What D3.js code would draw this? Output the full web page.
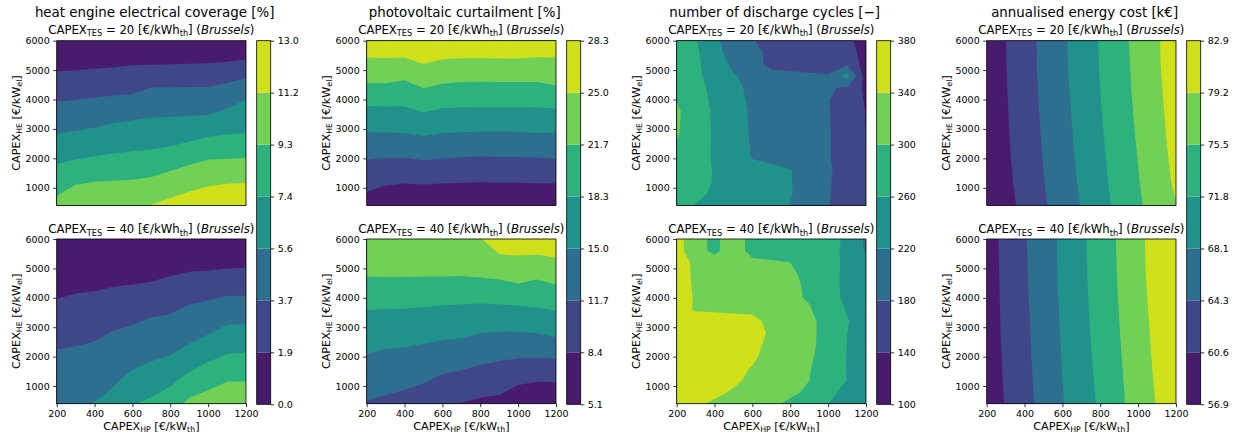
<!DOCTYPE html>
<html>
<head>
<meta charset="utf-8">
<script src="https://cdn.jsdelivr.net/npm/d3@7"></script>
<style>
  html, body { margin: 0; padding: 0; background: #fff; }
  svg { display: block; font-family: "DejaVu Sans", sans-serif; }
</style>
</head>
<body>
<div id="chart"></div>
<script>
// grid of the parametric study
const hpValues = [200, 300, 400, 500, 600, 700, 800, 900, 1000, 1100, 1200];
const heCoarse = [6000, 5200, 4400, 3600, 2800, 2000, 1200, 400];
const heFine = [6000, 5600, 5200, 4800, 4400, 4000, 3600, 3200, 2800, 2400, 2000, 1600, 1200, 800, 400];
const tesValues = [20, 40];
const cityName = 'Brussels';

const columnTitles = [
    'heat engine electrical coverage [%]',
    'photovoltaic curtailment [%]',
    'number of discharge cycles [\u2212]',
    'annualised energy cost [k\u20ac]'
];

// contour levels and colorbar labels
const coverageLevels = [0, 1.86, 3.72, 5.58, 7.44, 9.3, 11.16, 13.02];
const coverageTicks = ['0.0', '1.9', '3.7', '5.6', '7.4', '9.3', '11.2', '13.0'];
const curtailLevels = [5.08, 8.4, 11.71, 15.03, 18.35, 21.67, 24.98, 28.3];
const curtailTicks = ['5.1', '8.4', '11.7', '15.0', '18.3', '21.7', '25.0', '28.3'];
const cycleLevels = [100, 140, 180, 220, 260, 300, 340, 380];
const cycleTicks = ['100', '140', '180', '220', '260', '300', '340', '380'];
const costLevels = [56.9, 60.62, 64.34, 68.06, 71.78, 75.5, 79.22, 82.94];
const costTicks = ['56.9', '60.6', '64.3', '68.1', '71.8', '75.5', '79.2', '82.9'];

// rows follow the HE arrays (top = 6000), columns follow hpValues
const coverageTes20 = [
    [0.4, 0.3, 0.3, 0.3, 0.3, 0.3, 0.3, 0.3, 0.3, 0.4, 0.5],
    [1.41, 1.48, 1.56, 1.67, 1.8, 1.82, 1.86, 1.9, 1.93, 2.03, 2.19],
    [2.86, 2.98, 3.09, 3.18, 3.27, 3.75, 3.77, 3.78, 3.78, 4.14, 4.79],
    [4.28, 4.42, 4.56, 4.83, 5.03, 5.21, 5.25, 5.27, 5.25, 5.8, 6.33],
    [5.64, 5.83, 6.02, 6.33, 6.48, 6.54, 6.6, 6.86, 7.29, 7.47, 7.52],
    [7.09, 7.35, 7.58, 7.72, 7.85, 7.97, 8.33, 8.81, 9.2, 9.27, 9.32],
    [8.47, 9.09, 9.3, 9.37, 9.45, 9.65, 10.15, 10.52, 10.84, 11.02, 11.07],
    [9.85, 10.84, 10.9, 10.95, 11.0, 11.2, 11.62, 12.1, 12.48, 12.78, 12.9]
];
const coverageTes40 = [
    [0, 0, 0, 0, 0, 0, 0, 0, 0, 0.1, 0.1],
    [0.45, 0.74, 0.79, 0.83, 0.82, 0.89, 1.19, 1.33, 1.35, 1.45, 1.51],
    [1.37, 1.59, 1.67, 1.83, 1.94, 2.08, 2.36, 2.7, 2.87, 3.09, 3.11],
    [2.26, 2.43, 2.56, 2.84, 3.06, 3.42, 3.52, 3.98, 4.26, 4.63, 4.61],
    [3.16, 3.28, 3.45, 3.81, 4.09, 4.34, 4.59, 4.99, 5.49, 6.11, 6.19],
    [3.97, 4.07, 4.21, 4.58, 4.99, 5.35, 5.66, 6.31, 7.09, 7.59, 7.71],
    [4.66, 4.79, 4.92, 5.36, 6.04, 6.55, 7.05, 8.03, 8.64, 9.19, 9.23],
    [5.35, 5.48, 5.63, 6.13, 7.35, 7.8, 8.42, 9.72, 10.19, 10.79, 10.75]
];

const curtailTes20 = [
    [27.1, 27.2, 27.4, 27.8, 27.4, 27.4, 27.4, 27.3, 27.3, 27.2, 27.2],
    [24.15, 24.19, 24.01, 24.94, 24.31, 24.16, 24.12, 24.23, 24.23, 24.04, 24.09],
    [21.05, 21.07, 20.57, 21.73, 21.14, 20.85, 20.83, 20.83, 20.83, 20.89, 21.4],
    [17.56, 17.64, 17.74, 18.51, 17.93, 17.86, 17.78, 17.78, 17.78, 17.88, 17.97],
    [14.73, 14.74, 14.79, 15.24, 14.8, 14.7, 14.6, 14.6, 14.6, 14.79, 14.72],
    [11.86, 11.66, 11.65, 11.98, 11.74, 11.59, 11.44, 11.53, 11.53, 11.6, 11.78],
    [9.44, 8.83, 8.61, 8.76, 8.61, 8.52, 8.44, 8.52, 8.52, 8.59, 8.62],
    [7.04, 6.0, 5.56, 5.54, 5.48, 5.44, 5.43, 5.46, 5.46, 5.5, 5.5]
];
const curtailTes40 = [
    [24.2, 24.2, 24.2, 24.3, 24.5, 24.6, 24.8, 26.8, 26.9, 26.9, 27.0],
    [23.06, 23.11, 23.1, 23.1, 23.2, 23.2, 23.55, 23.93, 24.18, 23.98, 24.45],
    [20.73, 20.78, 20.76, 20.7, 20.62, 20.54, 20.6, 20.81, 21.35, 20.8, 21.46],
    [18.39, 18.3, 18.24, 18.06, 17.88, 17.7, 17.58, 17.62, 17.78, 18.1, 18.53],
    [16.58, 16.31, 16.2, 15.95, 15.75, 15.56, 15.06, 14.87, 14.85, 15.06, 15.67],
    [14.8, 14.44, 14.26, 13.93, 13.47, 13.14, 12.53, 12.17, 11.92, 11.85, 11.99],
    [13.16, 12.77, 12.46, 11.98, 11.13, 10.68, 10.14, 9.83, 9.0, 8.61, 8.7],
    [11.53, 11.09, 10.66, 10.03, 8.79, 8.3, 7.8, 7.56, 6.08, 5.36, 5.45]
];

const cyclesTes20 = [
    [296, 263, 227.2, 202.7, 181.1, 172.8, 165.2, 157.6, 150.1, 142.5, 134.9],
    [297, 267.2, 231.2, 206.2, 186.2, 174.7, 167, 159.3, 151.7, 144, 136.4],
    [297, 267.9, 238.7, 213.1, 193.8, 170, 166, 160, 153.4, 173, 122],
    [296, 268.5, 245.6, 222.7, 210, 192, 190, 188, 185, 235, 120],
    [296.3, 272.9, 249.5, 226.1, 214.1, 206.2, 198.3, 190.5, 182.5, 177, 130],
    [298, 275.7, 252.3, 228.9, 214.9, 206.6, 198.3, 190.1, 181.7, 160.8, 136.6],
    [305.4, 279.6, 254.5, 231.8, 215.9, 207.5, 199, 190.6, 182, 162.2, 138.8],
    [304.5, 279.5, 255.1, 232.7, 216.3, 207.8, 199.3, 190.8, 182.2, 163, 139],
    [302.9, 279, 255.6, 233.5, 216.7, 208.1, 199.5, 191, 182.4, 165.6, 145.6],
    [297, 276.8, 255.8, 234.7, 217.4, 208.6, 199.9, 191.3, 182.4, 166, 146],
    [294.8, 275.5, 256.1, 236.8, 218.8, 209.7, 200.6, 191.6, 182.4, 166, 147],
    [291, 271.1, 258.2, 249, 239.9, 230.8, 221.6, 204.1, 184.7, 164.8, 145],
    [287, 273, 257.8, 248.8, 239.8, 230.8, 221.8, 203.8, 183.5, 163.4, 143],
    [280, 266.7, 255.8, 247.4, 238.9, 230.5, 222.1, 204, 182.8, 162.6, 143],
    [275, 258.4, 250.6, 242.9, 235.1, 227.4, 219.1, 200.5, 181.9, 162, 142]
];
const cyclesTes40 = [
    [350, 323.5, 285, 336.7, 276.5, 273, 269.6, 266.2, 266, 257, 213],
    [350, 323.5, 285, 336.7, 276.5, 273, 269.5, 266, 266, 256, 215],
    [348, 336.7, 329.3, 322, 314.6, 307.3, 299.9, 284.8, 269.5, 254.4, 239.3],
    [348, 337.1, 330.6, 324, 317.5, 310.9, 304.3, 293, 272.5, 252, 231.5],
    [348, 337.7, 331.3, 324.8, 318.3, 311.9, 305.4, 296.2, 273.7, 251.2, 228.8],
    [348, 338.5, 331.9, 325.4, 318.8, 312.3, 305.7, 297, 274.3, 251.6, 229],
    [348, 338, 337, 336, 335, 324.3, 313.6, 302.9, 282, 257.3, 232.6],
    [355, 352, 350, 348, 346.4, 333.3, 320.2, 307.2, 288.4, 263, 237.7],
    [358, 356, 354, 352, 350, 336, 321.8, 307.7, 287.6, 260.5, 233.5],
    [358, 356, 354, 352, 347, 333.3, 320.2, 307.2, 287.2, 259.4, 231.7],
    [358, 356, 354, 350, 344, 330.8, 318.1, 305.4, 285.1, 258.9, 232.7],
    [358, 356, 352, 347, 338.5, 326.3, 314.1, 301.8, 281.1, 258.9, 236.7],
    [358, 355, 350, 345, 334.3, 323, 311.7, 300.5, 280.2, 259.6, 239],
    [356, 352, 346, 337.3, 327.3, 317.3, 307.3, 293.9, 271.1, 248.4, 225.7],
    [350, 344, 335.9, 326, 316.2, 306.3, 293.9, 277, 260.2, 250, 240]
];

const costTes20 = [
    [58.23, 60.57, 62.91, 65.21, 67.45, 69.75, 72.05, 74.32, 76.59, 78.86, 81.13],
    [58.2, 60.53, 62.85, 65.15, 67.39, 69.67, 71.96, 74.22, 76.49, 78.79, 81.08],
    [58.09, 60.41, 62.74, 65.03, 67.24, 69.51, 71.8, 74.06, 76.32, 78.58, 80.85],
    [58.0, 60.3, 62.6, 64.87, 67.05, 69.3, 71.6, 73.85, 76.11, 78.38, 80.65],
    [57.95, 60.19, 62.43, 64.67, 66.86, 69.09, 71.37, 73.62, 75.87, 78.15, 80.43],
    [57.75, 59.99, 62.23, 64.47, 66.63, 68.84, 71.12, 73.36, 75.59, 77.86, 80.13],
    [57.51, 59.75, 61.99, 64.23, 66.38, 68.56, 70.85, 73.09, 75.32, 77.56, 79.8],
    [57.13, 59.38, 61.63, 63.89, 66.07, 68.24, 70.53, 72.77, 74.97, 77.15, 79.1]
];
const costTes40 = [
    [59.07, 61.57, 64.07, 66.42, 68.77, 71.12, 73.51, 75.91, 78.34, 80.78, 82.8],
    [59.04, 61.51, 63.97, 66.35, 68.72, 71.07, 73.46, 75.86, 78.29, 80.73, 82.7],
    [58.93, 61.41, 63.89, 66.28, 68.64, 70.98, 73.35, 75.74, 78.16, 80.57, 82.6],
    [58.94, 61.34, 63.74, 66.13, 68.5, 70.83, 73.19, 75.57, 77.97, 80.37, 82.4],
    [58.87, 61.24, 63.61, 65.99, 68.38, 70.68, 73.02, 75.4, 77.77, 80.14, 82.2],
    [58.75, 61.12, 63.49, 65.86, 68.22, 70.49, 72.81, 75.19, 77.56, 79.93, 82.0],
    [58.62, 60.97, 63.33, 65.69, 68.06, 70.27, 72.55, 74.97, 77.34, 79.69, 81.8],
    [58.45, 60.81, 63.16, 65.51, 67.85, 70.06, 72.32, 74.79, 77.13, 79.43, 81.7]
];

const columns = [
    { title: columnTitles[0], levels: coverageLevels, ticks: coverageTicks,
      maps: [{ he: heCoarse, z: coverageTes20 }, { he: heCoarse, z: coverageTes40 }] },
    { title: columnTitles[1], levels: curtailLevels, ticks: curtailTicks,
      maps: [{ he: heCoarse, z: curtailTes20 }, { he: heCoarse, z: curtailTes40 }] },
    { title: columnTitles[2], levels: cycleLevels, ticks: cycleTicks,
      maps: [{ he: heFine, z: cyclesTes20 }, { he: heFine, z: cyclesTes40 }] },
    { title: columnTitles[3], levels: costLevels, ticks: costTicks,
      maps: [{ he: heCoarse, z: costTes20 }, { he: heCoarse, z: costTes40 }] }
];

// layout
const W = 1236, H = 440;
const colStep = 310, firstX = 56.7;
const plotW = 189.3, plotH = 164.7;
const rowTop = [40.7, 239.0];
const subBase = [33.5, 233.3];
const cbTop = 40.7, cbBottom = 404.3, cbW = 14;
const tickFont = 9.5, labelFont = 11.2, subFont = 11.7, titleFont = 13.4;

const bandColor = i => d3.interpolateViridis((i + 0.5) / 7);

const svg = d3.select('#chart').append('svg')
    .attr('width', W)
    .attr('height', H);

function richText(sel, parts, size) {
    // matplotlib-like mathtext subscripts
    let shifted = false;
    parts.forEach(p => {
        const ts = sel.append('tspan').text(p.t);
        if (p.sub) {
            ts.attr('font-size', size * 0.7);
            if (!shifted) ts.attr('dy', size * 0.22);
            shifted = true;
        } else {
            ts.attr('font-size', size);
            if (shifted) ts.attr('dy', -size * 0.22);
            shifted = false;
        }
        if (p.it) ts.attr('font-style', 'italic');
    });
}

function styleAxis(g) {
    g.select('.domain').remove();
    g.attr('font-size', tickFont).attr('font-family', '"DejaVu Sans", sans-serif');
    g.selectAll('.tick line').attr('stroke', '#000').attr('stroke-width', 0.8);
    g.selectAll('.tick text').attr('fill', '#000');
}

columns.forEach((col, c) => {
    const x0 = firstX + colStep * c;
    const x = d3.scaleLinear().domain([200, 1200]).range([x0, x0 + plotW]);

    svg.append('text')
        .attr('x', x0 + plotW / 2 + 3.3)
        .attr('y', 17)
        .attr('text-anchor', 'middle')
        .attr('font-size', titleFont)
        .text(col.title);

    col.maps.forEach((m, r) => {
        const y0 = rowTop[r];
        const y = d3.scaleLinear().domain([400, 6000]).range([y0 + plotH, y0]);
        const clipId = `clip-${c}-${r}`;

        svg.append('clipPath').attr('id', clipId)
            .append('rect')
            .attr('x', x0).attr('y', y0)
            .attr('width', plotW).attr('height', plotH);

        // filled contours on the study grid
        const nx = hpValues.length, ny = m.he.length;
        const hpStep = hpValues[1] - hpValues[0];
        const heStep = m.he[0] - m.he[1];
        const contours = d3.contours()
            .size([nx, ny])
            .thresholds(col.levels.slice(0, -1))(m.z.flat());
        const path = d3.geoPath(d3.geoTransform({
            point(px, py) {
                this.stream.point(
                    x(hpValues[0] + (px - 0.5) * hpStep),
                    y(m.he[0] - (py - 0.5) * heStep)
                );
            }
        }));

        svg.append('g')
            .attr('clip-path', `url(#${clipId})`)
            .selectAll('path')
            .data(contours)
            .join('path')
            .attr('d', path)
            .attr('fill-rule', 'evenodd')
            .attr('fill', (d, i) => bandColor(i));

        svg.append('rect')
            .attr('x', x0).attr('y', y0)
            .attr('width', plotW).attr('height', plotH)
            .attr('fill', 'none')
            .attr('stroke', '#000')
            .attr('stroke-width', 0.8);

        svg.append('g')
            .attr('transform', `translate(${x0},0)`)
            .call(d3.axisLeft(y).tickValues([1000, 2000, 3000, 4000, 5000, 6000])
                .tickSize(3.5).tickPadding(3.5).tickFormat(d3.format('d')))
            .call(styleAxis);

        if (r === 1) {
            svg.append('g')
                .attr('transform', `translate(0,${y0 + plotH})`)
                .call(d3.axisBottom(x).tickValues([200, 400, 600, 800, 1000, 1200])
                    .tickSize(3.5).tickPadding(3.5).tickFormat(d3.format('d')))
                .call(styleAxis);

            richText(svg.append('text')
                .attr('x', x0 + plotW / 2)
                .attr('y', 430)
                .attr('text-anchor', 'middle'),
                [{ t: 'CAPEX' }, { t: 'HP', sub: true }, { t: ' [\u20ac/kW' }, { t: 'th', sub: true }, { t: ']' }],
                labelFont);
        }

        richText(svg.append('text')
            .attr('transform', `translate(${x0 - 37.2},${y0 + plotH / 2}) rotate(-90)`)
            .attr('text-anchor', 'middle'),
            [{ t: 'CAPEX' }, { t: 'HE', sub: true }, { t: ' [\u20ac/kW' }, { t: 'el', sub: true }, { t: ']' }],
            labelFont);

        richText(svg.append('text')
            .attr('x', x0 + plotW / 2)
            .attr('y', subBase[r])
            .attr('text-anchor', 'middle'),
            [{ t: 'CAPEX' }, { t: 'TES', sub: true }, { t: ` = ${tesValues[r]} [\u20ac/kWh` },
             { t: 'th', sub: true }, { t: '] (' }, { t: cityName, it: true }, { t: ')' }],
            subFont);
    });

    // colorbar shared by both rows
    const cbX = x0 + 200;
    const cy = d3.scaleLinear()
        .domain([col.levels[0], col.levels[col.levels.length - 1]])
        .range([cbBottom, cbTop]);
    const bands = d3.range(col.levels.length - 1);

    svg.append('g').selectAll('rect')
        .data(bands)
        .join('rect')
        .attr('x', cbX)
        .attr('width', cbW)
        .attr('y', i => cy(col.levels[i + 1]))
        .attr('height', i => cy(col.levels[i]) - cy(col.levels[i + 1]))
        .attr('fill', i => bandColor(i));

    svg.append('rect')
        .attr('x', cbX).attr('y', cbTop)
        .attr('width', cbW).attr('height', cbBottom - cbTop)
        .attr('fill', 'none')
        .attr('stroke', '#000')
        .attr('stroke-width', 0.8);

    svg.append('g')
        .attr('transform', `translate(${cbX + cbW},0)`)
        .call(d3.axisRight(cy).tickValues(col.levels)
            .tickSize(3.5).tickPadding(3.5)
            .tickFormat((d, i) => col.ticks[i]))
        .call(styleAxis);
});
</script>
</body>
</html>
